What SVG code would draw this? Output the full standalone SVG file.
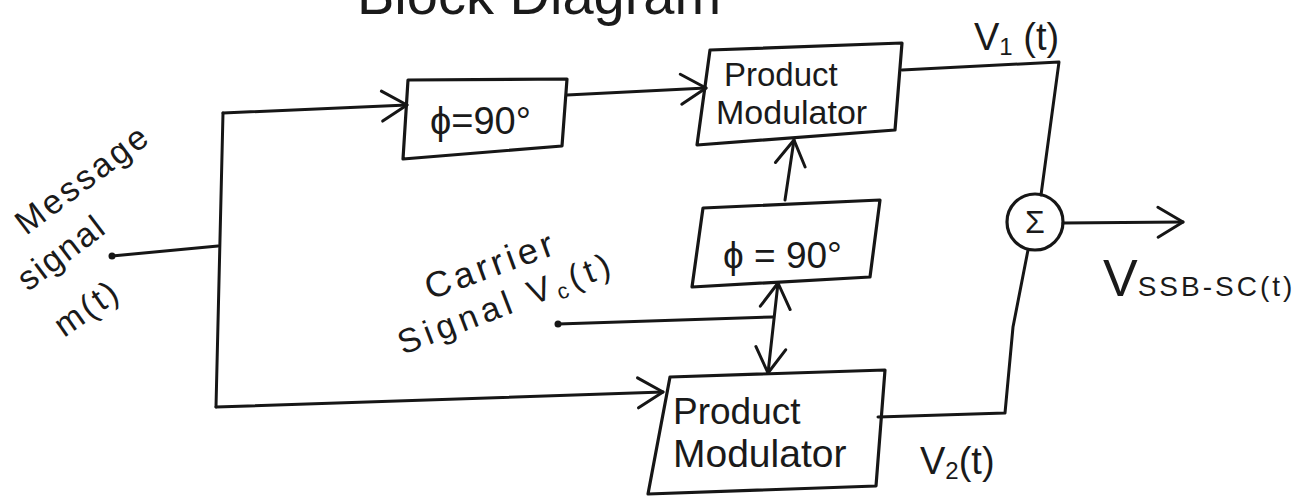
<svg xmlns="http://www.w3.org/2000/svg" width="1306" height="496" viewBox="0 0 1306 496">
<style>
.ln{fill:none;stroke:#161616;stroke-width:3;stroke-linecap:round;stroke-linejoin:round}
.bx{fill:none;stroke:#161616;stroke-width:3.2;stroke-linejoin:round}
.t{font-family:"Liberation Sans",Arial,sans-serif;fill:#1a1a1a}
.dot{fill:#161616}
</style>
<defs>
<marker id="arr" markerUnits="userSpaceOnUse" viewBox="-30 -20 34 40" markerWidth="34" markerHeight="40" refX="0" refY="0" orient="auto-start-reverse" overflow="visible">
<path d="M-25,-15 L0,0 L-25,15" fill="none" stroke="#161616" stroke-width="3" stroke-linecap="round" stroke-linejoin="round"/>
</marker>
</defs>
<rect width="1306" height="496" fill="#ffffff"/>

<text class="t" x="357" y="14" font-size="56">Block Diagram</text>

<g id="message-label" class="t" font-size="34">
<text transform="translate(26,236) rotate(-37)" letter-spacing="3">Message</text>
<text transform="translate(28,292) rotate(-37)" letter-spacing="2">signal</text>
<text transform="translate(64,338) rotate(-35)" letter-spacing="3">m(t)</text>
</g>

<g id="carrier-label" class="t" font-size="36">
<text transform="translate(430,300) rotate(-20)" letter-spacing="4">Carrier</text>
<text transform="translate(403,355) rotate(-21)" font-size="34" letter-spacing="5">Signal V<tspan font-size="22" dy="5">c</tspan><tspan dy="-5">(t)</tspan></text>
</g>

<g id="phase1">
<polygon class="bx" points="408,80 567,79 562,146 403,159"/>
<text class="t" x="430" y="134" font-size="38">ϕ=90°</text>
</g>

<g id="pm1">
<polygon class="bx" points="710,50 902,43 895,130 697,145"/>
<text class="t" x="724" y="86" font-size="33">Product</text>
<text class="t" x="716" y="124" font-size="34">Modulator</text>
</g>

<g id="phase2">
<polygon class="bx" points="703,208 880,200 870,277 692,287"/>
<text class="t" x="723" y="268" font-size="37">ϕ = 90°</text>
</g>

<g id="pm2">
<polygon class="bx" points="670,377 885,370 876,486 648,494"/>
<text class="t" x="673" y="424" font-size="37">Product</text>
<text class="t" x="673" y="467" font-size="39">Modulator</text>
</g>

<g id="sum">
<ellipse class="bx" cx="1035" cy="222" rx="28" ry="28"/>
<text class="t" x="1035" y="233" font-size="32" text-anchor="middle">Σ</text>
</g>

<g id="labels" class="t">
<text x="974" y="50" font-size="38">V<tspan font-size="24" dy="5">1</tspan><tspan dy="-5"> (t)</tspan></text>
<text x="920" y="474" font-size="38">V<tspan font-size="24" dy="5">2</tspan><tspan dy="-5">(t)</tspan></text>
<text x="1103" y="296" font-size="52">V<tspan font-size="28" letter-spacing="3">SSB-SC(t)</tspan></text>
</g>

<g id="connectors">
<circle class="dot" cx="112" cy="256" r="3.5"/>
<polyline class="ln" points="112,256 218,246"/>
<polyline class="ln" points="223,113 216,407"/>
<polyline class="ln" points="223,113 407,105" marker-end="url(#arr)"/>
<polyline class="ln" points="216,407 663,392" marker-end="url(#arr)"/>
<polyline class="ln" points="567,95 706,88" marker-end="url(#arr)"/>
<polyline class="ln" points="902,70 1059,62 1041,195"/>
<polyline class="ln" points="1063,223 1183,222" marker-end="url(#arr)"/>
<polyline class="ln" points="1028,250 1013,327 1005,413 878,417"/>
<circle class="dot" cx="558" cy="324" r="3.5"/>
<polyline class="ln" points="558,324 773,317"/>
<polyline class="ln" points="778,283 768,373" marker-start="url(#arr)" marker-end="url(#arr)"/>
<polyline class="ln" points="785,200 794,140" marker-end="url(#arr)"/>
</g>
</svg>
